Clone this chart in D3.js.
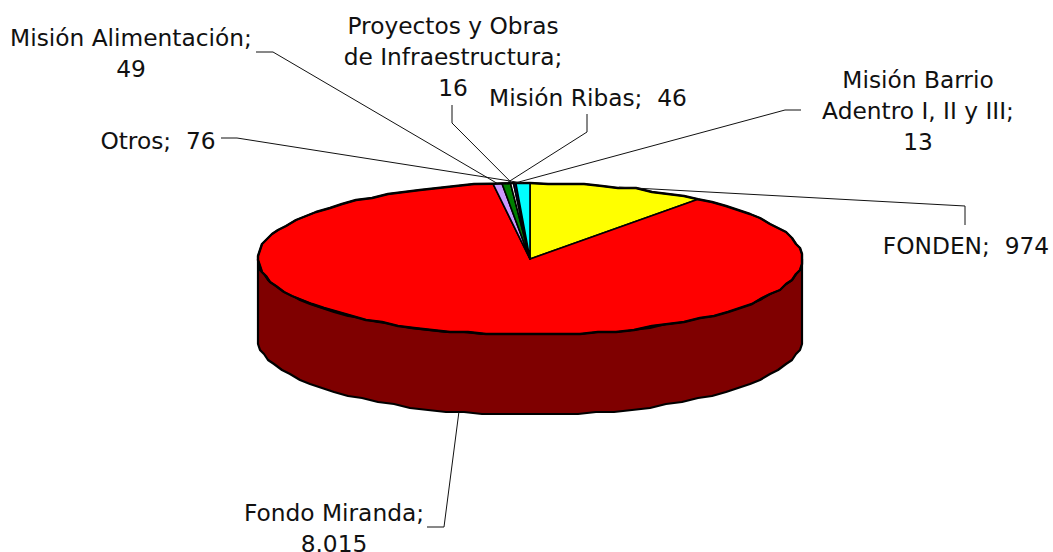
<!DOCTYPE html>
<html>
<head>
<meta charset="utf-8">
<script src="https://cdn.jsdelivr.net/npm/d3@7"></script>
<style>
body { margin:0; background:#fff; }
text { font-family:"DejaVu Sans"; font-size:23.3px; fill:#111; white-space:pre; }
</style>
</head>
<body>
<svg id="chart" width="1053" height="552"></svg>
<script>
//chart values, clockwise from 12 o'clock
var categories = ["FONDEN","Fondo Miranda","Misión Alimentación","Misión Ribas",
                  "Proyectos y Obras de Infraestructura","Misión Barrio Adentro I, II y III","Otros"]
var values = [974,8015,49,46,16,13,76]
var valueLabels = ["974","8.015","49","46","16","13","76"]
var sliceColors = ["#ffff00","#ff0000","#cc99ff","#008000","#ffffff","#000080","#00ffff"]

//where each label sits and how its leader runs, same order as categories
var labelLines = [
    ["FONDEN;  974"],
    ["Fondo Miranda;","8.015"],
    ["Misión Alimentación;","49"],
    ["Misión Ribas;  46"],
    ["Proyectos y Obras","de Infraestructura;","16"],
    ["Misión Barrio","Adentro I, II y III;","13"],
    ["Otros;  76"]
]
var labelX = [966,334,131,588,453,918,158]
var labelY = [254,521,46,106,34,88,149]
var labelStep = 31
var leaderRoutes = [
    [[965,206],[965,225]],
    [[444,527],[427,527]],
    [[273,52],[256,52]],
    [[587,132],[587,114]],
    [[452,123],[452,105]],
    [[785,110],[801,110]],
    [[237,138],[221,138]]
]

var pie = {cx:530,cy:259,rx:272,ry:76,depth:80}

var xScale = d3.scaleLinear().domain([-1,1]).range([pie.cx-pie.rx,pie.cx+pie.rx])
var yScale = d3.scaleLinear().domain([-1,1]).range([pie.cy+pie.ry,pie.cy-pie.ry])

var slices = d3.pie().sort(null).startAngle(0).endAngle(2*Math.PI)(values)

//the outline is a coarse polygon on a rough grid, like the metafile it came from
var snap = function(v) { return Math.round(v/2)*2 }

var exactPoint = function(angle)
{
    return [xScale(Math.sin(angle)),yScale(Math.cos(angle))]
}

var rimPoint = function(angle)
{
    var p = exactPoint(angle)
    return [snap(p[0]),snap(p[1])]
}

var rimPoints = function(a0,a1)
{
    var step = 4*Math.PI/180
    var pts = [exactPoint(a0)]
    var n = Math.ceil((a1-a0)/step)
    for (var i=1;i<n;i++) { pts.push(rimPoint(a0+(a1-a0)*i/n)) }
    pts.push(exactPoint(a1))
    return pts
}

var line = d3.line()
var svg = d3.select("#chart")

//side wall
var front = rimPoints(Math.PI/2,3*Math.PI/2)
var wall = front.concat(front.slice().reverse().map(function(p) { return [p[0],p[1]+pie.depth] }))
svg.append("path")
   .attr("d",line(wall)+"Z")
   .attr("fill","#7f0000")
   .attr("stroke","#000")
   .attr("stroke-width",2.2)
   .attr("stroke-linejoin","round")

//top face
svg.append("g")
   .selectAll("path")
   .data(slices)
   .enter()
   .append("path")
   .attr("d",function(d)
    {
        return line([[pie.cx,pie.cy]].concat(rimPoints(d.startAngle,d.endAngle)))+"Z"
    })
   .attr("fill",function(d,i) { return sliceColors[i] })
   .attr("stroke","#000")
   .attr("stroke-width",1.6)
   .attr("stroke-linejoin","round")

//heavier line round the rim of the top face
svg.append("g")
   .selectAll("path")
   .data(slices)
   .enter()
   .append("path")
   .attr("d",function(d) { return line(rimPoints(d.startAngle,d.endAngle)) })
   .attr("fill","none")
   .attr("stroke","#000")
   .attr("stroke-width",2.4)
   .attr("stroke-linejoin","round")

//leaders
svg.append("g")
   .selectAll("path")
   .data(slices)
   .enter()
   .append("path")
   .attr("d",function(d,i)
    {
        var mid = (d.startAngle+d.endAngle)/2
        var start = exactPoint(mid)
        if (Math.cos(mid)<0) { start[1] += pie.depth }
        return line([start].concat(leaderRoutes[i]))
    })
   .attr("fill","none")
   .attr("stroke","#111")
   .attr("stroke-width",1)

//labels
labelLines.forEach(function(lines,i)
{
    svg.append("text")
       .attr("text-anchor","middle")
       .selectAll("tspan")
       .data(lines)
       .enter()
       .append("tspan")
       .attr("x",labelX[i])
       .attr("y",function(d,j) { return labelY[i]+j*labelStep })
       .text(function(d) { return d })
})
</script>
</body>
</html>
